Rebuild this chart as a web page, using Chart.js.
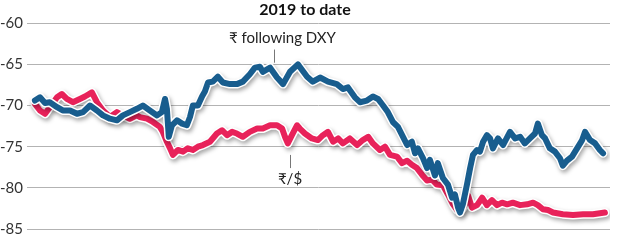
<!DOCTYPE html>
<html>
<head>
<meta charset="utf-8">
<script src="https://cdn.jsdelivr.net/npm/chart.js@4/dist/chart.umd.min.js"></script>
<style>
  html, body { margin: 0; padding: 0; background: #ffffff; }
  #wrap { width: 620px; height: 242px; position: relative; }
</style>
</head>
<body>
<div id="wrap"><canvas id="c"></canvas></div>
<script>
// Day index since 1 Jan 2019
const dxyDays = [0,16,32,47,70,88,111,133,152,174,196,215,237,259,278,300,322,341,363,386,401,411,417,423,433,449,465,480,490,499,515,528,537,547,562,578,594,616,638,657,679,695,711,720,743,765,784,806,831,860,878,901,926,954,973,989,1011,1027,1049,1068,1084,1100,1115,1131,1147,1163,1176,1191,1201,1210,1226,1239,1248,1264,1273,1289,1305,1318,1327,1337,1343,1352,1365,1375,1384,1397,1406,1416,1428,1438,1447,1463,1479,1501,1517,1533,1548,1564,1580,1589,1602,1612,1627,1643,1659,1668,1681,1697,1713,1729,1738,1754,1770,1785,1795];
const dxyValues = [-69.4,-69.0,-69.7,-69.6,-70.2,-70.6,-70.6,-71.0,-70.8,-70.0,-70.6,-71.2,-71.6,-71.8,-71.2,-70.8,-70.4,-70.0,-70.6,-71.2,-70.8,-69.2,-70.4,-73.8,-72.4,-71.8,-72.2,-72.4,-71.4,-70.0,-70.0,-68.9,-68.3,-67.2,-67.1,-66.5,-67.2,-67.4,-67.4,-67.1,-66.2,-65.4,-65.3,-65.9,-65.4,-66.6,-67.4,-65.9,-65.0,-66.5,-67.1,-66.6,-67.1,-67.4,-68.0,-67.8,-69.0,-69.6,-69.4,-68.9,-69.2,-70.0,-70.8,-72.0,-72.6,-73.8,-74.8,-74.4,-75.8,-75.2,-76.4,-77.6,-76.6,-78.5,-77.0,-78.8,-79.6,-81.2,-80.8,-82.4,-83.0,-82.0,-79.6,-77.6,-76.0,-75.4,-75.6,-74.4,-73.6,-74.0,-75.2,-74.0,-74.8,-73.2,-74.0,-73.8,-74.6,-74.0,-73.4,-72.2,-73.6,-74.0,-75.2,-75.6,-76.4,-77.3,-76.7,-76.2,-75.2,-74.2,-73.2,-74.2,-74.6,-75.4,-75.8];

const inrDays = [0,16,32,47,70,85,101,120,142,158,180,196,215,237,259,278,300,322,332,354,373,395,404,417,427,436,452,468,483,499,515,531,553,575,591,607,623,638,657,679,702,720,743,765,781,790,799,812,828,837,853,875,894,910,926,942,958,973,995,1018,1036,1053,1068,1090,1106,1122,1144,1160,1176,1191,1207,1223,1239,1255,1270,1289,1305,1321,1334,1349,1359,1368,1381,1397,1413,1428,1444,1460,1476,1492,1510,1533,1555,1574,1589,1605,1621,1637,1668,1700,1732,1763,1801];
const inrValues = [-69.8,-70.6,-71.0,-70.2,-69.0,-68.6,-69.2,-69.6,-69.2,-68.9,-68.4,-69.6,-70.6,-71.4,-70.8,-71.2,-71.6,-71.2,-71.4,-71.6,-72.0,-72.6,-73.2,-74.4,-75.2,-76.0,-75.4,-75.6,-75.2,-75.4,-75.0,-74.8,-74.4,-73.4,-73.0,-73.6,-73.2,-73.4,-73.8,-73.2,-72.8,-72.8,-72.4,-72.4,-72.8,-73.8,-74.6,-73.6,-72.4,-72.8,-73.4,-74.0,-74.2,-73.6,-73.2,-74.4,-74.0,-74.6,-74.0,-74.8,-74.2,-73.8,-74.6,-75.4,-75.0,-76.0,-76.2,-77.0,-76.7,-77.2,-77.6,-78.4,-79.1,-79.0,-79.6,-79.7,-80.8,-82.0,-82.7,-82.6,-82.0,-80.9,-82.4,-82.1,-81.2,-82.1,-81.5,-82.1,-81.8,-82.0,-81.8,-82.1,-82.0,-81.8,-82.1,-82.6,-82.7,-83.0,-83.2,-83.3,-83.2,-83.2,-83.0];

const yTicks = [-60,-65,-70,-75,-80,-85];
const titleText = '2019 to date';
const dxyLabel = '₹ following DXY';
const inrLabel = '₹/$';

const BLUE = '#185d8e';
const RED = '#e8225a';
const FONT = "Lato, 'Noto Sans', 'DejaVu Sans', sans-serif";

function pts(days, vals) { return days.map((d, i) => ({ x: d, y: vals[i] })); }

// annotation placement (data units)
const notes = [
  { text: dxyLabel, x: 782, y: -61.8, lineX: 755, from: -63.2, to: -64.8 },
  { text: inrLabel, x: 806, y: -78.9, lineX: 806, from: -76.0, to: -77.6 }
];

const shadowPlugin = {
  id: 'haloShadow',
  beforeDatasetDraw(chart, args) {
    const ds = chart.data.datasets[args.index];
    if (ds.halo) {
      const ctx = chart.ctx;
      ctx.save();
      ctx.shadowColor = 'rgba(0,0,0,0.35)';
      ctx.shadowBlur = 4;
      ctx.shadowOffsetX = 1.5;
      ctx.shadowOffsetY = 2.5;
    }
  },
  afterDatasetDraw(chart, args) {
    const ds = chart.data.datasets[args.index];
    if (ds.halo) chart.ctx.restore();
  }
};

const notePlugin = {
  id: 'notes',
  afterDraw(chart) {
    const ctx = chart.ctx, xs = chart.scales.x, ys = chart.scales.y;
    ctx.save();
    notes.forEach(n => {
      const lx = Math.round(xs.getPixelForValue(n.lineX)) + 0.5;
      ctx.strokeStyle = '#777';
      ctx.lineWidth = 1;
      ctx.beginPath();
      ctx.moveTo(lx, ys.getPixelForValue(n.from));
      ctx.lineTo(lx, ys.getPixelForValue(n.to));
      ctx.stroke();
      ctx.fillStyle = '#222';
      ctx.font = "15px " + FONT;
      ctx.textAlign = 'center';
      ctx.textBaseline = 'middle';
      ctx.fillText(n.text, xs.getPixelForValue(n.x), ys.getPixelForValue(n.y));
    });
    ctx.restore();
  }
};

new Chart(document.getElementById('c'), {
  type: 'line',
  data: {
    datasets: [
      { label: 'dxy', data: pts(dxyDays, dxyValues), borderColor: BLUE, borderWidth: 6, order: 0 },
      { label: 'dxyHalo', halo: true, data: pts(dxyDays, dxyValues), borderColor: '#ffffff', borderWidth: 9, order: 1 },
      { label: 'inr', data: pts(inrDays, inrValues), borderColor: RED, borderWidth: 6, order: 2 },
      { label: 'inrHalo', halo: true, data: pts(inrDays, inrValues), borderColor: '#ffffff', borderWidth: 9, order: 3 }
    ]
  },
  options: {
    responsive: true,
    maintainAspectRatio: false,
    animation: false,
    layout: { padding: { top: 0, right: 10, bottom: 10, left: 0 } },
    elements: {
      point: { radius: 0, hoverRadius: 0 },
      line: { tension: 0, borderJoinStyle: 'round', borderCapStyle: 'round', fill: false }
    },
    plugins: {
      legend: { display: false },
      tooltip: { enabled: false },
      title: {
        display: true, text: titleText, color: '#111',
        font: { family: FONT, size: 16, weight: 'bold' },
        padding: { top: 0, bottom: 4 }
      }
    },
    scales: {
      x: { type: 'linear', min: -25, max: 1817, display: false },
      y: {
        min: -85, max: -60,
        afterFit(s) { s.width = 27; },
        afterBuildTicks(s) { s.ticks = yTicks.map(v => ({ value: v })); },
        ticks: { color: '#333', padding: 4, font: { family: FONT, size: 15 } },
        grid: { color: '#b3b3b3', lineWidth: 1, drawTicks: false },
        border: { display: false }
      }
    }
  },
  plugins: [shadowPlugin, notePlugin]
});
</script>
</body>
</html>
